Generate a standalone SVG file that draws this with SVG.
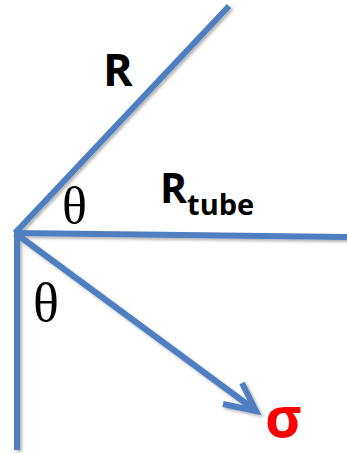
<svg xmlns="http://www.w3.org/2000/svg" width="347" height="454" viewBox="0 0 347 454">
<style>
.ln{stroke:#4F7FC0;stroke-width:6;fill:none;stroke-linecap:butt}
.lbl{font-family:"Open Sans","Liberation Sans",sans-serif;font-weight:bold;fill:#000}
.th{font-family:"Liberation Serif","Times New Roman",serif;fill:#000}
</style>
<defs>
<filter id="sh" x="-10%" y="-10%" width="130%" height="130%">
<feDropShadow dx="2" dy="2" stdDeviation="1.5" flood-color="#000" flood-opacity="0.3"/>
</filter>
</defs>
<g id="connectors" filter="url(#sh)">
<line class="ln" x1="15" y1="233" x2="229" y2="6"/>
<line class="ln" x1="15" y1="233" x2="347" y2="237"/>
<line class="ln" x1="17" y1="231" x2="17" y2="450"/>
<line class="ln" x1="15" y1="233" x2="255" y2="410"/>
<polyline class="ln" points="242,383 256,411 223,404" stroke-linejoin="miter"/>
</g>
<g id="label-R"><text class="lbl" x="103" y="86" font-size="45">R</text></g>
<g id="label-Rtube"><text class="lbl" x="160" y="203" font-size="41">R<tspan font-size="29" dy="12">tube</tspan></text></g>
<g id="theta1"><text class="th" x="62" y="223" font-size="52">θ</text></g>
<g id="theta2"><text class="th" x="33" y="321" font-size="54">θ</text></g>
<g id="sigma"><text class="lbl" x="265" y="437" font-size="56" style="fill:#FF0000">σ</text></g>
</svg>
